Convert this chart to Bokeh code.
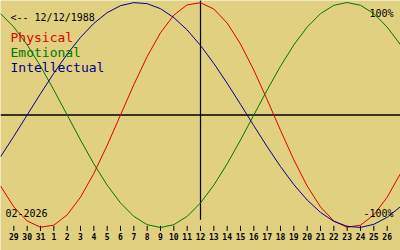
from bokeh.plotting import figure
from bokeh.models import Range1d, Label, ColumnDataSource
from bokeh.embed import file_html
from bokeh.resources import INLINE

# day offsets relative to 12 Feb 2026 (centre line)
days = [-15, -14, -13, -12, -11, -10, -9, -8, -7, -6, -5, -4, -3, -2, -1, 0,
        1, 2, 3, 4, 5, 6, 7, 8, 9, 10, 11, 12, 13, 14, 15]
physical = [-0.6311, -0.8170, -0.9423, -0.9977, -0.9791, -0.8879, -0.7308, -0.5196,
            -0.2698, 0.0, 0.2698, 0.5196, 0.7308, 0.8879, 0.9791, 0.9977, 0.9423,
            0.8170, 0.6311, 0.3984, 0.1362, -0.1362, -0.3984, -0.6311, -0.8170,
            -0.9423, -0.9977, -0.9791, -0.8879, -0.7308, -0.5196]
emotional = [0.9010, 0.7818, 0.6235, 0.4339, 0.2225, 0.0, -0.2225, -0.4339, -0.6235,
             -0.7818, -0.9010, -0.9749, -1.0, -0.9749, -0.9010, -0.7818, -0.6235,
             -0.4339, -0.2225, 0.0, 0.2225, 0.4339, 0.6235, 0.7818, 0.9010, 0.9749,
             1.0, 0.9749, 0.9010, 0.7818, 0.6235]
intellectual = [-0.3717, -0.1893, 0.0, 0.1893, 0.3717, 0.5406, 0.6901, 0.8146, 0.9096,
                0.9718, 0.9989, 0.9898, 0.9450, 0.8660, 0.7557, 0.6182, 0.4582,
                0.2817, 0.0951, -0.0951, -0.2817, -0.4582, -0.6182, -0.7557, -0.8660,
                -0.9450, -0.9898, -0.9989, -0.9718, -0.9096, -0.8146]
tick_days = [-14, -13, -12, -11, -10, -9, -8, -7, -6, -5, -4, -3, -2, -1, 0,
             1, 2, 3, 4, 5, 6, 7, 8, 9, 10, 11, 12, 13, 14]
tick_labels = ["29", "30", "31", "1", "2", "3", "4", "5", "6", "7", "8", "9", "10",
               "11", "12", "13", "14", "15", "16", "17", "18", "19", "20", "21",
               "22", "23", "24", "25", "26"]
series_names = ["Physical", "Emotional", "Intellectual"]
series_colors = ["#dd0000", "#007700", "#000088"]
birth_label = "<-- 12/12/1988"
month_label = "02-2026"

BG = "#e0d080"
W, H = 400, 250
CENTER_PX, AMP_PX = 114.5, 112.5

p = figure(width=W, height=H, output_backend="svg", toolbar_location=None,
           x_range=Range1d(-15, 15),
           y_range=Range1d((CENTER_PX - H) / AMP_PX, CENTER_PX / AMP_PX),
           min_border=0, min_border_left=0, min_border_right=0,
           min_border_top=0, min_border_bottom=0)
p.axis.visible = False
p.grid.visible = False
p.outline_line_color = None
p.background_fill_color = BG
p.border_fill_color = BG

# axes lines
p.segment(x0=[-15], y0=[0], x1=[15], y1=[0], line_color="black", line_width=1.3)
p.segment(x0=[0], y0=[1.1], x1=[0], y1=[-0.93], line_color="black", line_width=1.2)

# ticks
p.segment(x0=tick_days, y0=[-0.985] * len(tick_days), x1=tick_days,
          y1=[-1.03] * len(tick_days), line_color="black", line_width=1)
src_t = ColumnDataSource(dict(x=tick_days, y=[-1.083] * len(tick_days), t=tick_labels))
p.text(x="x", y="y", text="t", source=src_t, text_align="center",
       text_baseline="alphabetic", text_font_size="8px", text_font_style="bold",
       text_color="black", text_font={"value": "DejaVu Sans Mono"})

for vals, col in zip([physical, emotional, intellectual], series_colors):
    p.line(days, vals, line_color=col, line_width=1)

def lab(x, ytop, text, size, color="black", align="left"):
    p.add_layout(Label(x=x, y=H - ytop, x_units="screen", y_units="screen",
                       text=text, text_font="DejaVu Sans Mono", text_font_size=size,
                       text_color=color, text_align=align,
                       text_baseline="alphabetic"))

lab(10, 16.5, birth_label, "10px")
for i, (n, c) in enumerate(zip(series_names, series_colors)):
    lab(10, 36.5 + 15 * i, n, "13px", c)
lab(393, 12.5, "100%", "10px", align="right")
lab(393, 212.5, "-100%", "10px", align="right")
lab(5, 212.5, month_label, "10px")

open("out.html", "w").write(file_html(p, INLINE))
